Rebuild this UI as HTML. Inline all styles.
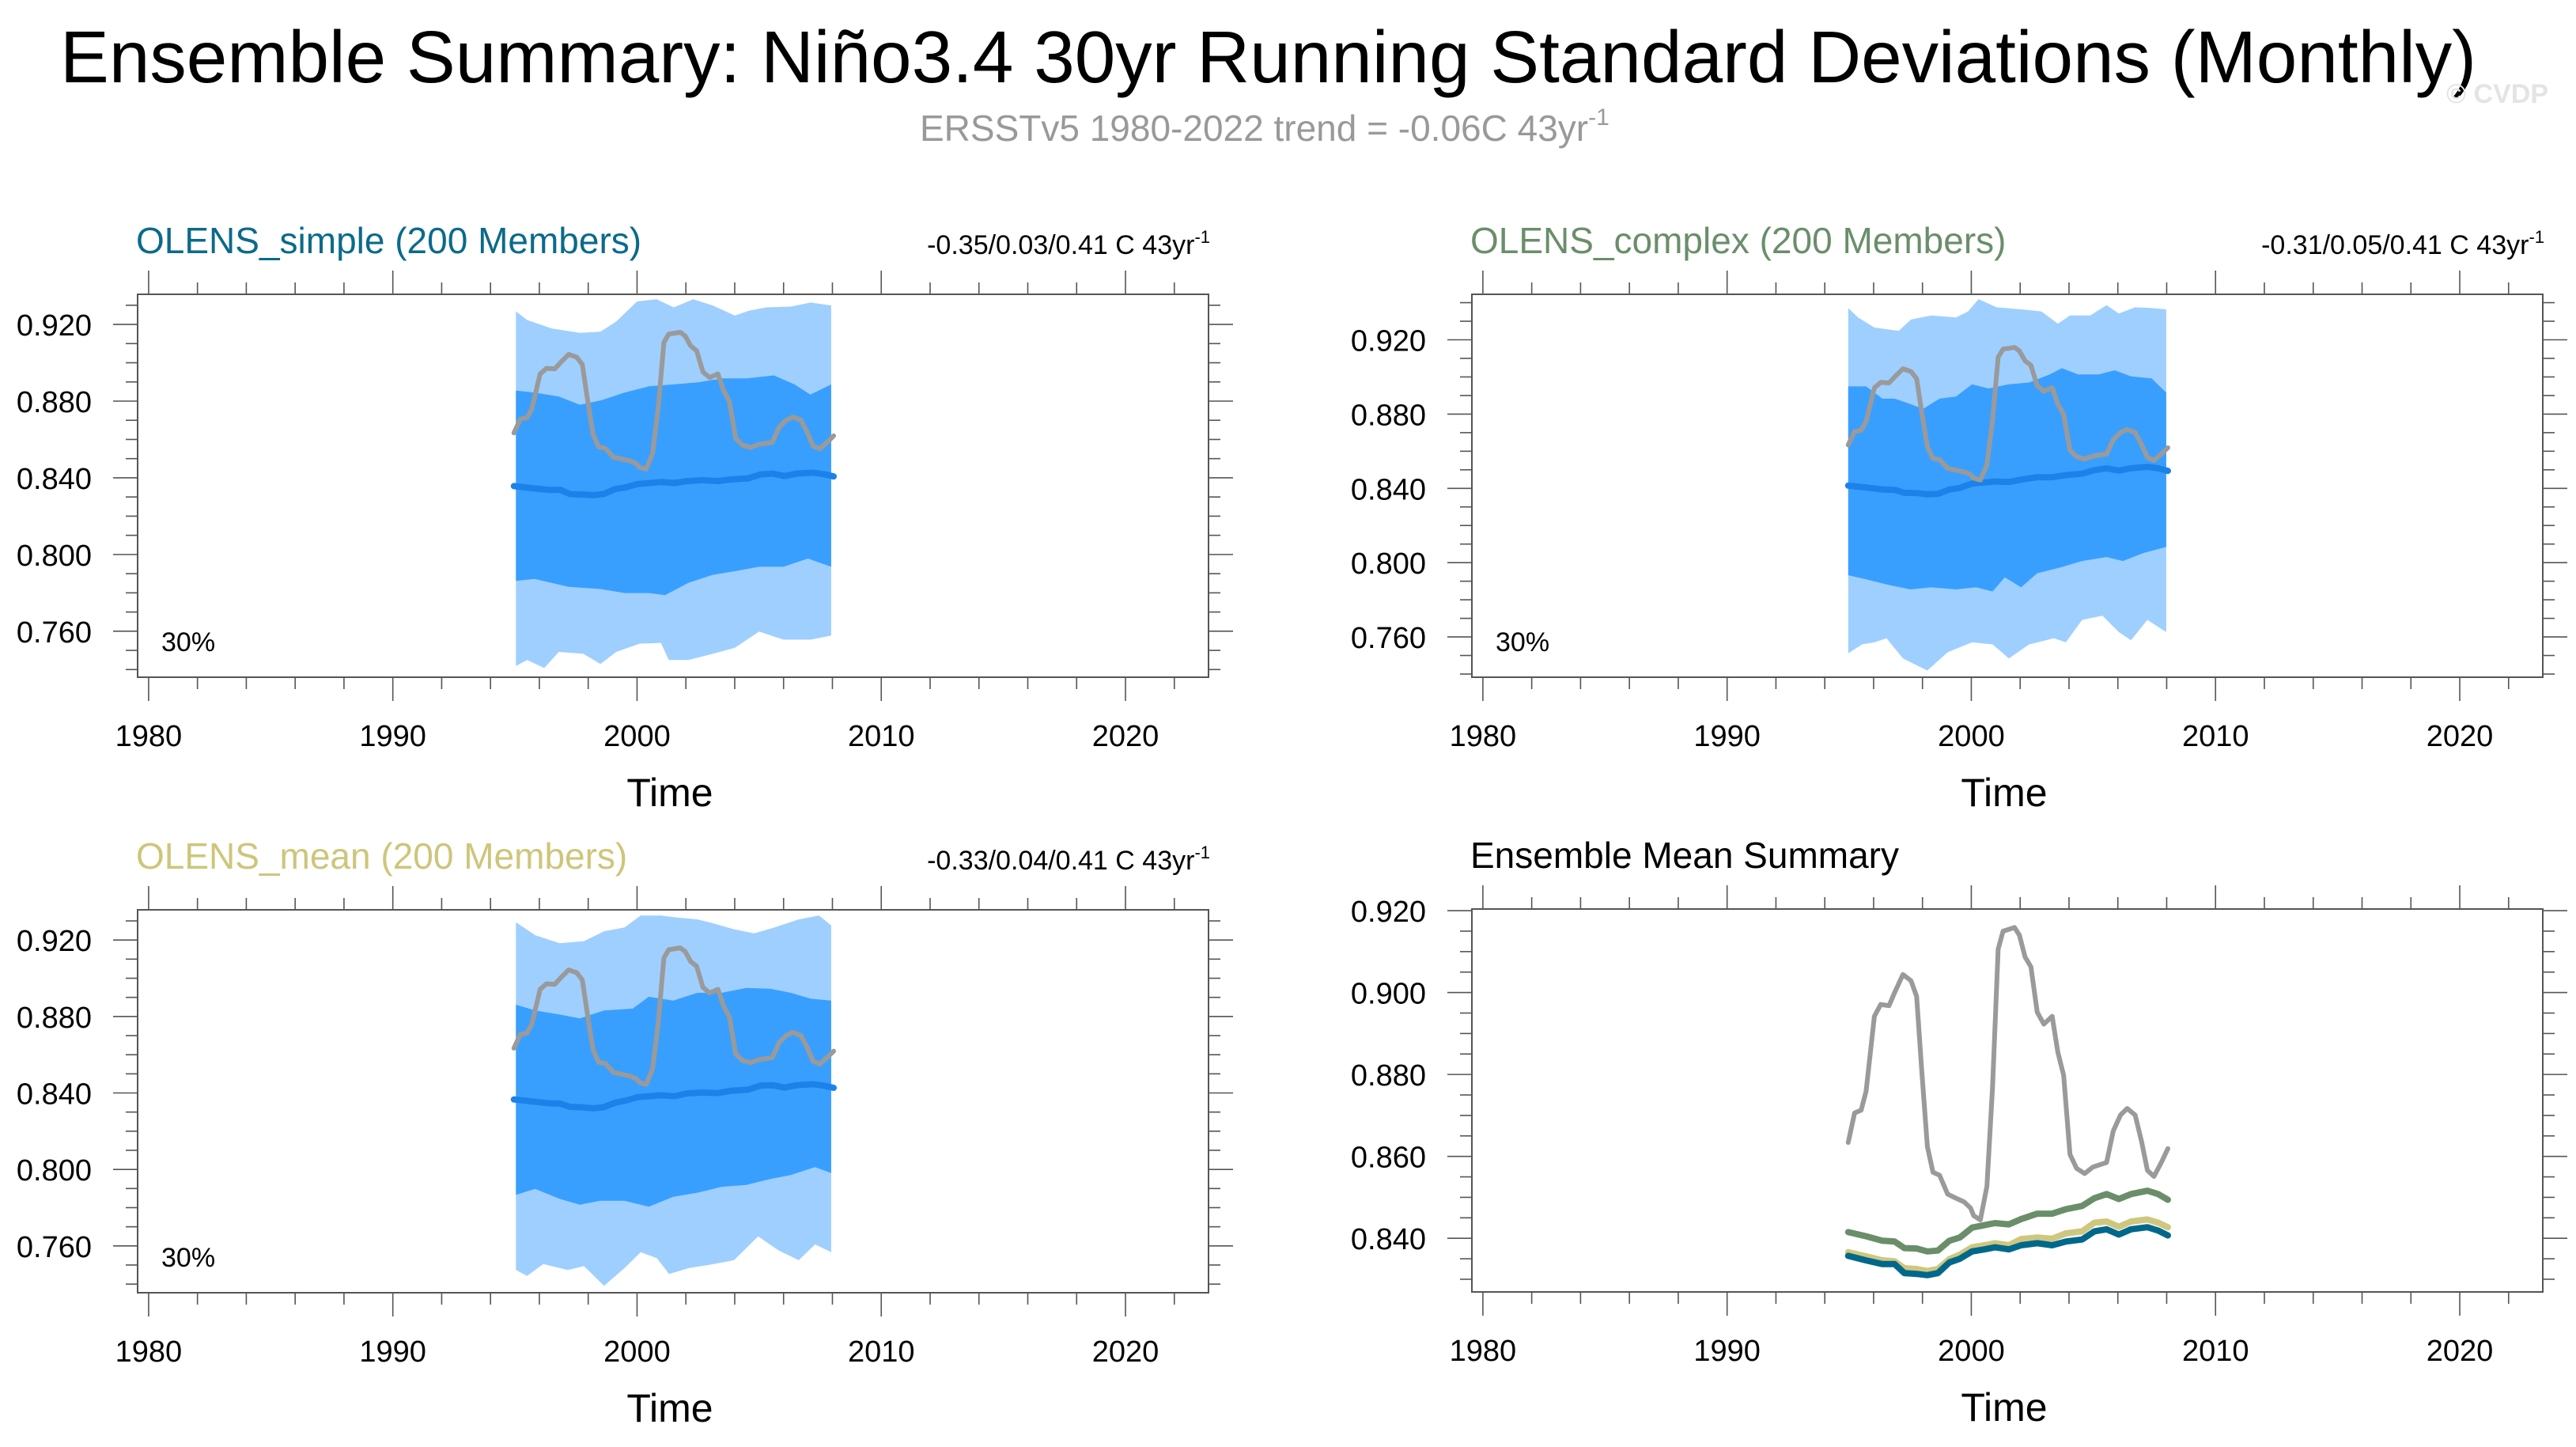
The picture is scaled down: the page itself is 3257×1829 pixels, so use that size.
<!DOCTYPE html>
<html><head><meta charset="utf-8"><title>Ensemble Summary</title>
<style>html,body{margin:0;padding:0;background:#fff;}svg{display:block;font-family:"Liberation Sans",Arial,sans-serif;}</style>
</head><body>
<svg id="chart" width="3257" height="1829" viewBox="0 0 3257 1829" xmlns="http://www.w3.org/2000/svg">
<text x="76" y="104" font-size="93" textLength="3055" lengthAdjust="spacingAndGlyphs" fill="#000">Ensemble Summary: Niño3.4 30yr Running Standard Deviations (Monthly)</text>
<text x="1163" y="178" font-size="46" fill="#999">ERSSTv5 1980-2022 trend = -0.06C 43yr<tspan font-size="30" dy="-20">-1</tspan></text>
<text x="3222" y="130" font-size="34" font-weight="bold" fill="#e4e4e4" text-anchor="end">© CVDP</text>
</svg>
<script>
// ---- data ----
const obsYears = [1994.96,1995.22,1995.49,1995.69,1996.03,1996.29,1996.63,1996.86,1997.20,1997.53,1997.76,1997.96,1998.20,1998.43,1998.70,1999.03,1999.37,1999.70,1999.97,2000.10,2000.37,2000.64,2000.87,2001.10,2001.30,2001.57,2001.77,2001.97,2002.20,2002.44,2002.70,2002.97,2003.31,2003.54,2003.78,2004.04,2004.31,2004.64,2004.98,2005.54,2005.81,2006.11,2006.38,2006.71,2006.98,2007.21,2007.48,2007.78,2008.05];
const obsValues = [0.8634,0.8706,0.8713,0.8759,0.8942,0.8971,0.8968,0.9000,0.9044,0.9029,0.8991,0.8817,0.8624,0.8561,0.8554,0.8508,0.8498,0.8489,0.8474,0.8455,0.8445,0.8527,0.8769,0.9106,0.9150,0.9155,0.9159,0.9140,0.9087,0.9063,0.8952,0.8923,0.8942,0.8855,0.8798,0.8605,0.8571,0.8558,0.8574,0.8585,0.8662,0.8701,0.8717,0.8701,0.8634,0.8566,0.8551,0.8585,0.8619];
const meanYears = [1994.96,1995.69,1996.36,1996.86,1997.26,1997.76,1998.20,1998.63,1999.10,1999.53,2000.03,2000.54,2000.97,2001.54,2002.04,2002.70,2003.31,2003.87,2004.54,2005.04,2005.54,2006.04,2006.54,2007.21,2007.65,2008.05];
const complexMean = [0.8415,0.8405,0.8394,0.8392,0.8376,0.8375,0.8368,0.8370,0.8394,0.8402,0.8426,0.8432,0.8437,0.8434,0.8447,0.8460,0.8460,0.8471,0.8479,0.8498,0.8508,0.8496,0.8508,0.8516,0.8508,0.8494];
const meanMean = [0.8366,0.8356,0.8346,0.8344,0.8327,0.8325,0.8320,0.8325,0.8349,0.8360,0.8378,0.8383,0.8388,0.8383,0.8398,0.8402,0.8399,0.8412,0.8417,0.8438,0.8441,0.8428,0.8441,0.8446,0.8438,0.8427];
const simpleMean = [0.8357,0.8346,0.8337,0.8337,0.8315,0.8313,0.8310,0.8315,0.8341,0.8350,0.8368,0.8373,0.8378,0.8373,0.8383,0.8388,0.8383,0.8392,0.8397,0.8417,0.8422,0.8409,0.8422,0.8427,0.8419,0.8407];

// simple panel bands
const sLightUpYears = [1995.04,1995.5,1996.5,1997.66,1998.5,1999.15,2000.0,2000.8,2001.5,2002.3,2003.1,2004.0,2004.6,2005.3,2006.3,2007.1,2007.95];
const sLightUp = [0.9268,0.9223,0.9179,0.9156,0.9162,0.9215,0.9320,0.9331,0.9289,0.9331,0.9299,0.9246,0.9272,0.9289,0.9293,0.9314,0.9299];
const sLightLoYears = [1995.04,1995.5,1996.2,1996.8,1997.8,1998.5,1999.15,2000.1,2000.98,2001.3,2002.1,2003.1,2004.0,2005.0,2006.0,2007.1,2007.95];
const sLightLo = [0.7418,0.7450,0.7408,0.7492,0.7482,0.7429,0.7492,0.7535,0.7539,0.7450,0.7450,0.7482,0.7513,0.7598,0.7556,0.7556,0.7577];
const sDarkUpYears = [1995.04,1995.8,1996.8,1997.66,1998.5,1999.5,2000.5,2001.5,2002.5,2003.5,2004.5,2005.6,2006.45,2007.1,2007.95];
const sDarkUp = [0.8855,0.8845,0.8824,0.8781,0.8803,0.8845,0.8877,0.8887,0.8898,0.8919,0.8919,0.8934,0.8887,0.8834,0.8887];
const sDarkLoYears = [1995.04,1995.8,1997.2,1998.5,1999.5,2000.5,2001.15,2002.1,2003.1,2004.1,2005.0,2006.0,2007.0,2007.95];
const sDarkLo = [0.7862,0.7873,0.7831,0.7820,0.7799,0.7799,0.7788,0.7852,0.7894,0.7915,0.7936,0.7936,0.7979,0.7936];

// complex panel bands
const cLightUpYears = [1994.96,1995.36,1996.03,1997.03,1997.53,1998.36,1999.37,1999.87,2000.3,2001.03,2002.04,2002.87,2003.54,2004.04,2004.87,2005.54,2006.04,2006.71,2007.38,2007.98];
const cLightUp = [0.9371,0.9320,0.9266,0.9248,0.9309,0.9331,0.9320,0.9353,0.9419,0.9375,0.9364,0.9353,0.9287,0.9331,0.9331,0.9386,0.9342,0.9375,0.9371,0.9364];
const cLightLoYears = [1994.96,1995.53,1996.03,1996.53,1997.2,1998.2,1999.03,2000.03,2000.87,2001.54,2002.37,2003.38,2003.87,2004.54,2005.37,2006.04,2006.54,2007.21,2007.98];
const cLightLo = [0.7512,0.7560,0.7571,0.7593,0.7484,0.7419,0.7517,0.7571,0.7560,0.7484,0.7560,0.7593,0.7571,0.7692,0.7714,0.7626,0.7582,0.7692,0.7626];
const cDarkUpYears = [1994.96,1995.69,1996.36,1996.86,1997.36,1998.03,1998.70,1999.37,2000.03,2000.7,2001.54,2002.37,2003.21,2003.71,2004.37,2005.21,2005.88,2006.54,2007.38,2007.98];
const cDarkUp = [0.8949,0.8949,0.8883,0.8883,0.8861,0.8828,0.8883,0.8894,0.8960,0.8938,0.8960,0.8970,0.9014,0.9047,0.9014,0.9014,0.9036,0.9003,0.8992,0.8916];
const cDarkLoYears = [1994.96,1995.69,1996.7,1997.53,1998.36,1999.37,2000.2,2000.87,2001.37,2002.04,2002.7,2003.71,2004.54,2005.54,2006.21,2007.05,2007.98];
const cDarkLo = [0.7932,0.7910,0.7877,0.7856,0.7867,0.7856,0.7867,0.7845,0.7921,0.7867,0.7943,0.7976,0.8009,0.8030,0.8009,0.8052,0.8085];

// mean panel bands
const mLightUpYears = [1995.04,1995.83,1996.83,1997.83,1998.65,1999.49,2000.15,2000.98,2001.64,2002.47,2003.14,2003.97,2004.8,2005.63,2006.62,2007.45,2007.95];
const mLightUp = [0.9293,0.9225,0.9183,0.9194,0.9246,0.9266,0.9328,0.9328,0.9318,0.9308,0.9287,0.9256,0.9235,0.9266,0.9308,0.9328,0.9277];
const mLightLoYears = [1995.04,1995.5,1996.16,1997.16,1997.83,1998.65,1999.49,2000.15,2000.81,2001.31,2002.14,2003.14,2003.97,2004.96,2005.79,2006.62,2007.29,2007.95];
const mLightLo = [0.7474,0.7443,0.7505,0.7474,0.7494,0.7391,0.7484,0.7567,0.7536,0.7453,0.7484,0.7505,0.7525,0.7650,0.7577,0.7525,0.7608,0.7567];
const mDarkUpYears = [1995.04,1995.83,1996.83,1997.66,1998.65,1999.82,2000.48,2001.48,2002.47,2003.47,2004.47,2005.46,2006.29,2007.12,2007.95];
const mDarkUp = [0.8862,0.8831,0.8810,0.8790,0.8831,0.8841,0.8903,0.8883,0.8924,0.8924,0.8949,0.8945,0.8924,0.8893,0.8883];
const mDarkLoYears = [1995.04,1995.83,1996.83,1997.66,1998.49,1999.49,2000.48,2001.48,2002.47,2003.47,2004.47,2005.46,2006.29,2007.29,2007.95];
const mDarkLo = [0.7867,0.7898,0.7846,0.7815,0.7836,0.7836,0.7805,0.7857,0.7878,0.7909,0.7919,0.7950,0.7971,0.8012,0.7981];

const xTickLabels = ["1980","1990","2000","2010","2020"];
const yTickLabelsBand = ["0.760","0.800","0.840","0.880","0.920"];
const yTickLabelsSummary = ["0.840","0.860","0.880","0.900","0.920"];

// ---- drawing ----
const svg = document.getElementById('chart');
const NS = 'http://www.w3.org/2000/svg';
function mk(tag, attrs, parent){
  const e = document.createElementNS(NS, tag);
  for (const k in attrs) e.setAttribute(k, attrs[k]);
  (parent||svg).appendChild(e);
  return e;
}
const X0 = 1979.55, X1 = 2023.4;
const W = 1354, H = 484;

function panel(p){
  const g = mk('g', {});
  
  
  const xs = yr => p.left + (yr - X0) / (X1 - X0) * W;
  const ys = v => p.top + (p.ymax - v) / (p.ymax - p.ymin) * H;
  function band(upY, up, loY, lo, color, nm){
    const pts = [];
    for (let i=0;i<up.length;i++) pts.push(xs(upY[i]).toFixed(1)+','+ys(up[i]).toFixed(1));
    for (let i=lo.length-1;i>=0;i--) pts.push(xs(loY[i]).toFixed(1)+','+ys(lo[i]).toFixed(1));
    const e = mk('polygon', {points: pts.join(' '), fill: color}, g);
    
    
  }
  function line(yrs, vals, color, w, nm){
    const pts = yrs.map((y,i)=>xs(y).toFixed(1)+','+ys(vals[i]).toFixed(1)).join(' ');
    const e = mk('polyline', {points: pts, fill:'none', stroke: color, 'stroke-width': w, 'stroke-linejoin':'round', 'stroke-linecap':'round'}, g);
    
    
  }
  if (p.bands){
    const b = p.bands;
    band(b[0],b[1],b[2],b[3],'#9fcfff','outer-spread-band');
    band(b[4],b[5],b[6],b[7],'#399fff','inner-spread-band');
    line(meanYears, p.mean, '#1c82ea', 8, 'ensemble-mean-line');
    line(obsYears, obsValues, '#9a9a9a', 6, 'observed-line');
  } else {
    line(obsYears, obsValues, '#9a9a9a', 6, 'observed-line');
    line(meanYears, complexMean, '#6a8e6a', 8, 'complex-mean-line');
    line(meanYears, meanMean, '#cfc77e', 8, 'mean-mean-line');
    line(meanYears, simpleMean, '#00688b', 8, 'simple-mean-line');
  }
  const fr = mk('rect', {x:p.left, y:p.top, width:W, height:H, fill:'none', stroke:'#555', 'stroke-width':2}, g);
  
  
  const tk = mk('g', {stroke:'#555','stroke-width':1.6}, g);
  
  
  for (let yr=1980; yr<=2022; yr+=2){
    const x = xs(yr), len = yr%10===0 ? 30 : 15;
    mk('line',{x1:x,x2:x,y1:p.top,y2:p.top-len},tk);
    mk('line',{x1:x,x2:x,y1:p.top+H,y2:p.top+H+len},tk);
  }
  for (let v=p.minorStart; v<=p.ymax+1e-9; v+=p.minor){
    if (v < p.ymin) continue;
    const y = ys(v);
    const major = Math.abs(((v - p.majorStart)/p.major) - Math.round((v - p.majorStart)/p.major)) < 1e-6;
    const len = major ? 31 : 15;
    mk('line',{x1:p.left,x2:p.left-len,y1:y,y2:y},tk);
    mk('line',{x1:p.left+W,x2:p.left+W+len,y1:y,y2:y},tk);
  }
  xTickLabels.forEach(l=>{
    const t = mk('text',{x:xs(+l), y:p.top+H+87, 'font-size':38, 'text-anchor':'middle', fill:'#000'}, g);
    t.textContent = l;
    
    
  });
  p.yLabels.forEach(l=>{
    const t = mk('text',{x:p.left-58, y:ys(+l)+14, 'font-size':38, 'text-anchor':'end', fill:'#000'}, g);
    t.textContent = l;
    
    
  });
  const xt = mk('text',{x:p.left+W/2-4, y:p.top+H+163, 'font-size':50, 'text-anchor':'middle', fill:'#000'}, g);
  xt.textContent = 'Time';
  
  
  const ti = mk('text',{x:p.left-2, y:p.top-52, 'font-size':46, fill:p.titleColor}, g);
  ti.textContent = p.title;
  
  
  if (p.stat){
    const st = mk('text',{x:p.left+W+2, y:p.top-51, 'font-size':34, 'text-anchor':'end', fill:'#000'}, g);
    st.textContent = p.stat;
    const sp = mk('tspan',{'font-size':22, dy:-14}, st);
    sp.textContent = '-1';
    
    
    const pc = mk('text',{x:p.left+30, y:p.top+H-33, 'font-size':34, fill:'#000'}, g);
    pc.textContent = '30%';
    
    
  }
}

panel({name:'panel-olens-simple', left:174, top:372, ymin:0.7360, ymax:0.9357, minor:0.01, minorStart:0.74, major:0.04, majorStart:0.76,
  yLabels:yTickLabelsBand, title:'OLENS_simple (200 Members)', titleColor:'#0b6a8b', stat:'-0.35/0.03/0.41 C 43yr', mean:simpleMean,
  bands:[sLightUpYears,sLightUp,sLightLoYears,sLightLo,sDarkUpYears,sDarkUp,sDarkLoYears,sDarkLo]});
panel({name:'panel-olens-complex', left:1861, top:372, ymin:0.7383, ymax:0.9445, minor:0.01, minorStart:0.74, major:0.04, majorStart:0.76,
  yLabels:yTickLabelsBand, title:'OLENS_complex (200 Members)', titleColor:'#6a8e6a', stat:'-0.31/0.05/0.41 C 43yr', mean:complexMean,
  bands:[cLightUpYears,cLightUp,cLightLoYears,cLightLo,cDarkUpYears,cDarkUp,cDarkLoYears,cDarkLo]});
panel({name:'panel-olens-mean', left:174, top:1150, ymin:0.7355, ymax:0.9358, minor:0.01, minorStart:0.74, major:0.04, majorStart:0.76,
  yLabels:yTickLabelsBand, title:'OLENS_mean (200 Members)', titleColor:'#cdc67a', stat:'-0.33/0.04/0.41 C 43yr', mean:meanMean,
  bands:[mLightUpYears,mLightUp,mLightLoYears,mLightLo,mDarkUpYears,mDarkUp,mDarkLoYears,mDarkLo]});
panel({name:'panel-ensemble-mean-summary', left:1861, top:1149, ymin:0.8269, ymax:0.9204, minor:0.005, minorStart:0.83, major:0.02, majorStart:0.84,
  yLabels:yTickLabelsSummary, title:'Ensemble Mean Summary', titleColor:'#000', stat:null});
</script>
</body></html>
